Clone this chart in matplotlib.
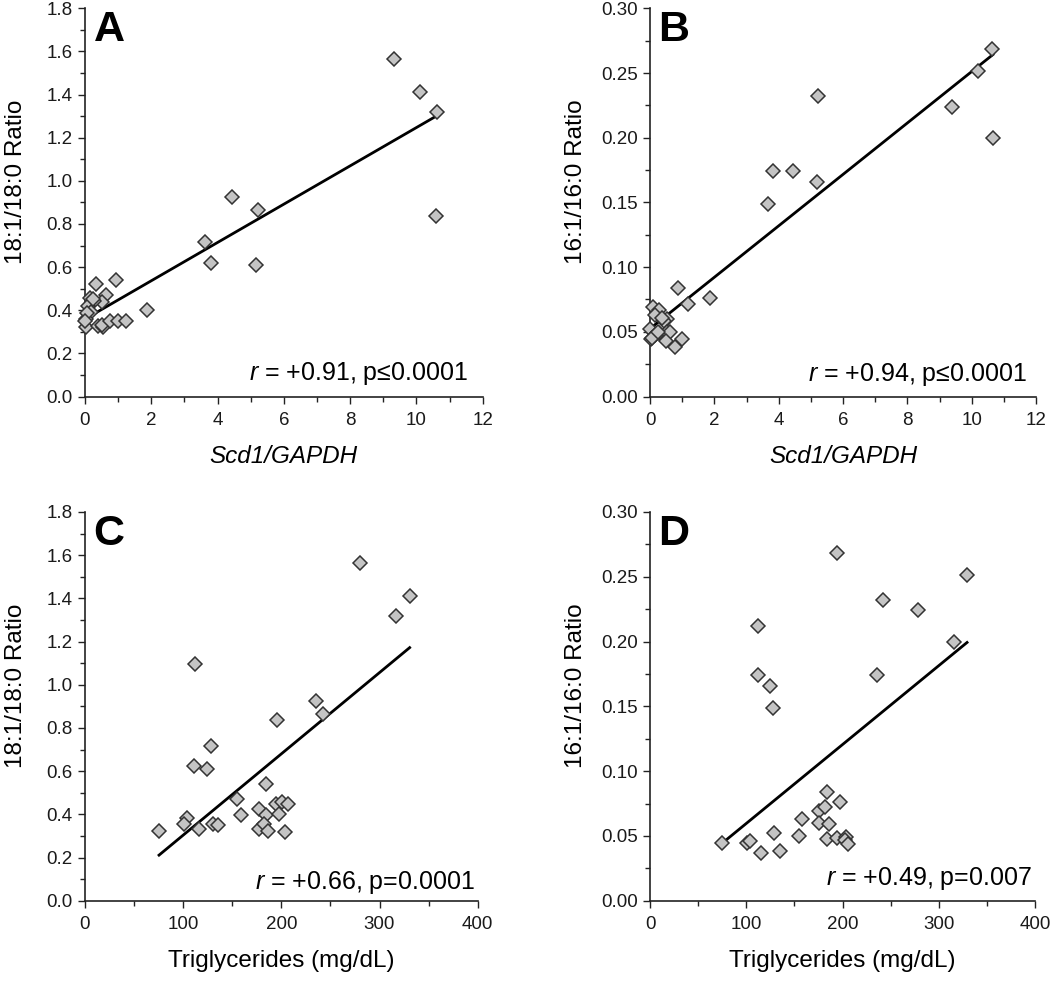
"""Four-panel scatter: desaturation ratios vs Scd1 expression and triglycerides."""

import numpy as np
import matplotlib
matplotlib.use("Agg")
import matplotlib.pyplot as plt
import matplotlib.ticker as ticker

plt.rcParams["font.family"] = ["Liberation Sans", "DejaVu Sans"]
plt.rcParams["mathtext.fontset"] = "custom"
plt.rcParams["mathtext.rm"] = "Liberation Sans"
plt.rcParams["mathtext.it"] = "Liberation Sans:italic"

# Panel A: 18:1/18:0 vs Scd1/GAPDH
scd1_a = [9.33, 10.11, 10.61, 10.58, 4.43, 5.21, 3.63, 3.81, 5.17, 1.86, 0.93, 0.33,
          0.62, 0.50, 0.27, 0.15, 0.10, 0.18, 0.03, 0.03, 0.40, 0.55, 0.51, 0.75,
          1.01, 1.23, 0.07, 0.25, 0.00]
ratio181_a = [1.565, 1.414, 1.319, 0.837, 0.925, 0.864, 0.717, 0.621, 0.609, 0.400,
              0.541, 0.521, 0.471, 0.440, 0.445, 0.456, 0.420, 0.394, 0.358, 0.324,
              0.328, 0.320, 0.332, 0.351, 0.351, 0.349, 0.386, 0.454, 0.348]

# Panel B: 16:1/16:0 vs Scd1/GAPDH
scd1_b = [10.62, 10.19, 9.40, 10.66, 5.23, 3.82, 4.45, 5.19, 3.66, 0.88, 1.88, 1.17,
          0.10, 0.28, 0.16, 0.52, 0.42, 0.00, 0.28, 0.52, 0.62, 0.16, 0.03, 0.50,
          1.01, 0.77, 0.07, 0.26, 0.36]
ratio161_b = [0.2686, 0.2513, 0.2240, 0.1998, 0.2323, 0.1743, 0.1743, 0.1661, 0.1491,
              0.0837, 0.0765, 0.0716, 0.0695, 0.0667, 0.0631, 0.0600, 0.0585, 0.0520,
              0.0489, 0.0497, 0.0497, 0.0474, 0.0443, 0.0430, 0.0443, 0.0379, 0.0450,
              0.0502, 0.0605]

# Panel C: 18:1/18:0 vs triglycerides
tg_c = [75.4, 103.6, 100.8, 115.8, 130.1, 135.5, 111.4, 123.9, 128.7, 111.7, 154.5,
        159.3, 177.6, 184.0, 184.0, 177.2, 182.3, 186.1, 194.2, 201.0, 206.8, 198.0,
        204.1, 195.6, 235.7, 242.8, 280.1, 316.5, 330.7]
ratio181_c = [0.325, 0.384, 0.353, 0.330, 0.353, 0.352, 0.623, 0.609, 0.717, 1.097,
              0.470, 0.395, 0.423, 0.396, 0.540, 0.330, 0.355, 0.324, 0.447, 0.455,
              0.446, 0.401, 0.318, 0.839, 0.927, 0.865, 1.566, 1.317, 1.413]

# Panel D: 16:1/16:0 vs triglycerides
tg_d = [75.2, 100.8, 103.5, 115.0, 129.2, 135.1, 112.2, 112.2, 125.0, 127.4, 154.8,
        157.6, 175.9, 175.9, 182.2, 183.5, 186.0, 183.5, 193.9, 197.1, 203.3, 202.2,
        206.1, 194.3, 235.5, 241.7, 278.4, 315.8, 329.4]
ratio161_d = [0.0445, 0.0448, 0.0461, 0.0370, 0.0522, 0.0383, 0.2120, 0.1744, 0.1659,
              0.1490, 0.0497, 0.0633, 0.0690, 0.0602, 0.0720, 0.0836, 0.0594, 0.0476,
              0.0484, 0.0762, 0.0491, 0.0468, 0.0435, 0.2684, 0.1744, 0.2323, 0.2241,
              0.1999, 0.2514]

# regression lines as printed (slope, intercept)
fit_a = (0.0888, 0.359)
fit_b = (0.01987, 0.0524)
fit_c = (0.003764, -0.0728)
fit_d = (0.000609, -0.0013)

stats_a = r"$\mathit{r}$ = +0.91, p≤0.0001"
stats_b = r"$\mathit{r}$ = +0.94, p≤0.0001"
stats_c = r"$\mathit{r}$ = +0.66, p=0.0001"
stats_d = r"$\mathit{r}$ = +0.49, p=0.007"

W, H = 1050, 984


def _axes_rect(left, right, top, bottom):
    return [left / W, 1 - bottom / H, (right - left) / W, (bottom - top) / H]


def draw_panel(fig, rect, x, y, fit, letter, stats, stats_pos, xlabel, ylabel,
               xlim, xmajor, xminor, ylim, ymajor, yminor, yfmt, xlabel_italic,
               ylab_x):
    ax = fig.add_axes(rect)
    x = np.asarray(x)
    y = np.asarray(y)

    xs = np.array([x.min(), x.max()])
    ax.plot(xs, fit[0] * xs + fit[1], color="black", linewidth=2.0, zorder=2)
    ax.plot(x, y, "D", markersize=6.8, markerfacecolor="#c4c4c4",
            markeredgecolor="#333333", markeredgewidth=1.1, clip_on=False,
            zorder=3)

    ax.set_xlim(*xlim)
    ax.set_ylim(*ylim)
    ax.xaxis.set_major_locator(ticker.MultipleLocator(xmajor))
    ax.xaxis.set_minor_locator(ticker.MultipleLocator(xminor))
    ax.yaxis.set_major_locator(ticker.MultipleLocator(ymajor))
    ax.yaxis.set_minor_locator(ticker.MultipleLocator(yminor))
    ax.yaxis.set_major_formatter(ticker.FormatStrFormatter(yfmt))
    ax.xaxis.set_major_formatter(ticker.FormatStrFormatter("%g"))

    for side in ("top", "right"):
        ax.spines[side].set_visible(False)
    for side in ("left", "bottom"):
        ax.spines[side].set_linewidth(1.2)
        ax.spines[side].set_color("#222222")
    ax.tick_params(which="major", direction="out", length=5, width=1.0,
                   labelsize=13.5, color="#222222", labelcolor="#1a1a1a")
    ax.tick_params(which="minor", direction="out", length=3.5, width=1.0,
                   color="#222222")
    ax.tick_params(axis="x", which="major", pad=6)
    ax.tick_params(axis="y", which="major", pad=4)

    ax.set_xlabel(xlabel, fontsize=17.5, style="italic" if xlabel_italic else "normal",
                  labelpad=12)
    ax.set_ylabel(ylabel, fontsize=17.5)
    ax.yaxis.set_label_coords(ylab_x, 0.553)

    ax.text(0.022, 0.995, letter, transform=ax.transAxes, fontsize=31,
            fontweight="bold", ha="left", va="top")
    ax.text(stats_pos[0], stats_pos[1], stats, transform=ax.transAxes,
            fontsize=18, ha="right", va="baseline")
    return ax


fig = plt.figure(figsize=(W / 100, H / 100), dpi=100)

draw_panel(fig, _axes_rect(85, 482.7, 8.3, 396.5), scd1_a, ratio181_a, fit_a, "A",
           stats_a, (0.963, 0.043), "Scd1/GAPDH", "18:1/18:0 Ratio",
           (0, 12), 2, 1, (0, 1.8), 0.2, 0.1, "%.1f", True, -0.146)
draw_panel(fig, _axes_rect(650, 1036, 8.3, 396.5), scd1_b, ratio161_b, fit_b, "B",
           stats_b, (0.976, 0.041), "Scd1/GAPDH", "16:1/16:0 Ratio",
           (0, 12), 2, 1, (0, 0.30), 0.05, 0.025, "%.2f", True, -0.163)
draw_panel(fig, _axes_rect(85, 477.7, 512, 900.7), tg_c, ratio181_c, fit_c, "C",
           stats_c, (0.993, 0.029), "Triglycerides (mg/dL)", "18:1/18:0 Ratio",
           (0, 400), 100, 50, (0, 1.8), 0.2, 0.1, "%.1f", False, -0.148)
draw_panel(fig, _axes_rect(650, 1035, 512, 900.7), tg_d, ratio161_d, fit_d, "D",
           stats_d, (0.992, 0.040), "Triglycerides (mg/dL)", "16:1/16:0 Ratio",
           (0, 400), 100, 50, (0, 0.30), 0.05, 0.025, "%.2f", False, -0.163)

fig.savefig("out.png", dpi=100)
